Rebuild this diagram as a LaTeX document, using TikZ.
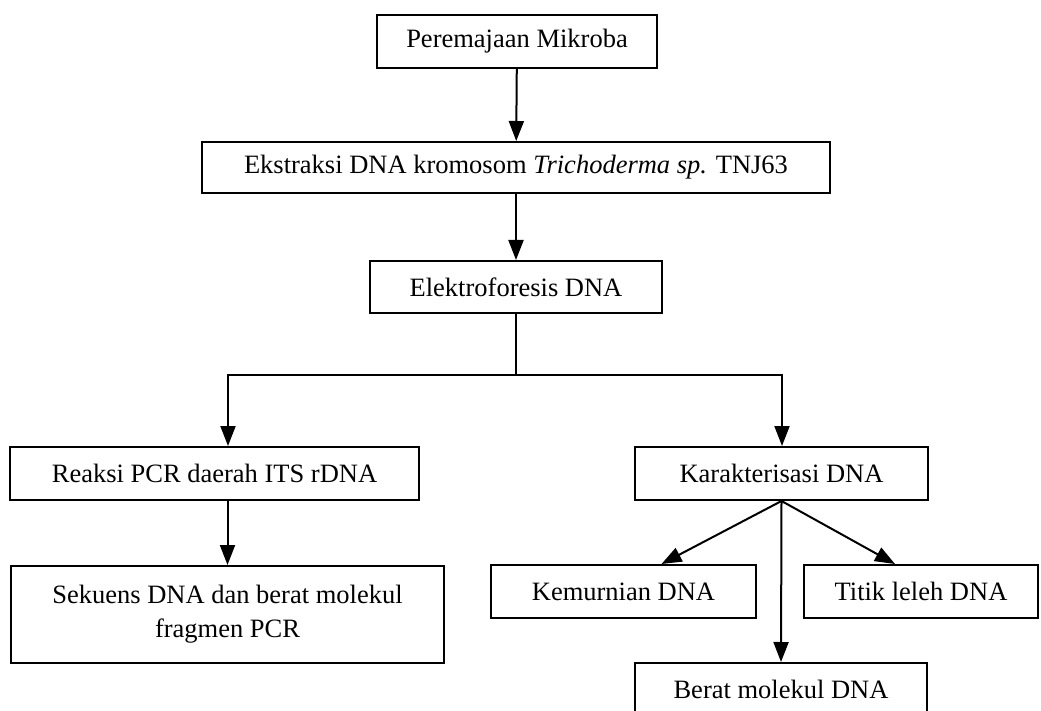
\documentclass[tikz,border=0pt]{standalone}
\usepackage{fontspec}
\setmainfont{Liberation Serif}
\usetikzlibrary{calc}
\usetikzlibrary{arrows.meta}

\tikzset{
  box/.style={draw, line width=2pt, inner sep=0pt, align=center,
    font=\fontsize{26.5}{34}\selectfont},
  link/.style={line width=2pt, -{Triangle[width=15pt,length=20pt]}},
  plain/.style={line width=2pt},
}

\begin{document}
\begin{tikzpicture}[x=1pt, y=-1pt]
\useasboundingbox (0,0) rectangle (1041,711);
\node[box, minimum width=280pt, minimum height=53pt] (remaja) at (517,41.5) {Peremajaan Mikroba};
\node[box, minimum width=628pt, minimum height=51pt] (ekstrak) at (516,167.5) {Ekstraksi DNA kromosom \textit{Trichoderma sp.} TNJ63};
\node[box, minimum width=292pt, minimum height=52pt] (elektro) at (516,287) {Elektroforesis DNA};
\node[box, minimum width=409pt, minimum height=53pt] (pcr) at (214.5,473.5) {Reaksi PCR daerah ITS rDNA};
\node[box, minimum width=293pt, minimum height=53pt] (karak) at (781.5,473.5) {Karakterisasi DNA};
\node[box, minimum width=433pt, minimum height=97pt] (sekuens) at (227.5,614.5) {Sekuens DNA dan berat molekul\\fragmen PCR};
\node[box, minimum width=265pt, minimum height=53pt] (murni) at (623.5,591.5) {Kemurnian DNA};
\node[box, minimum width=234pt, minimum height=53pt] (leleh) at (921,591.5) {Titik leleh DNA};
\node[box, minimum width=292pt, minimum height=53pt] (berat) at (781,689.5) {Berat molekul DNA};

% percabangan
\coordinate (cabL) at (228,375);
\coordinate (cabR) at (782,375);

\draw[link] (remaja) -- (ekstrak);
\draw[link] (ekstrak) -- (elektro);
\draw[plain] (elektro.south) -- (elektro.south |- cabL);
\draw[plain, line cap=rect] (cabL) -- (cabR);
\draw[link] (cabL) -- (cabL |- pcr.north);
\draw[link] (cabR) -- (cabR |- karak.north);
\draw[link] (sekuens.north |- pcr.south) -- (sekuens.north);
\draw[link] (karak.south) -- ($(murni.north)+(38,0)$);
\draw[link] (karak.south) -- ($(leleh.north)+(-26,0)$);
\draw[link] (karak.south) -- (berat.north);
\end{tikzpicture}
\end{document}
